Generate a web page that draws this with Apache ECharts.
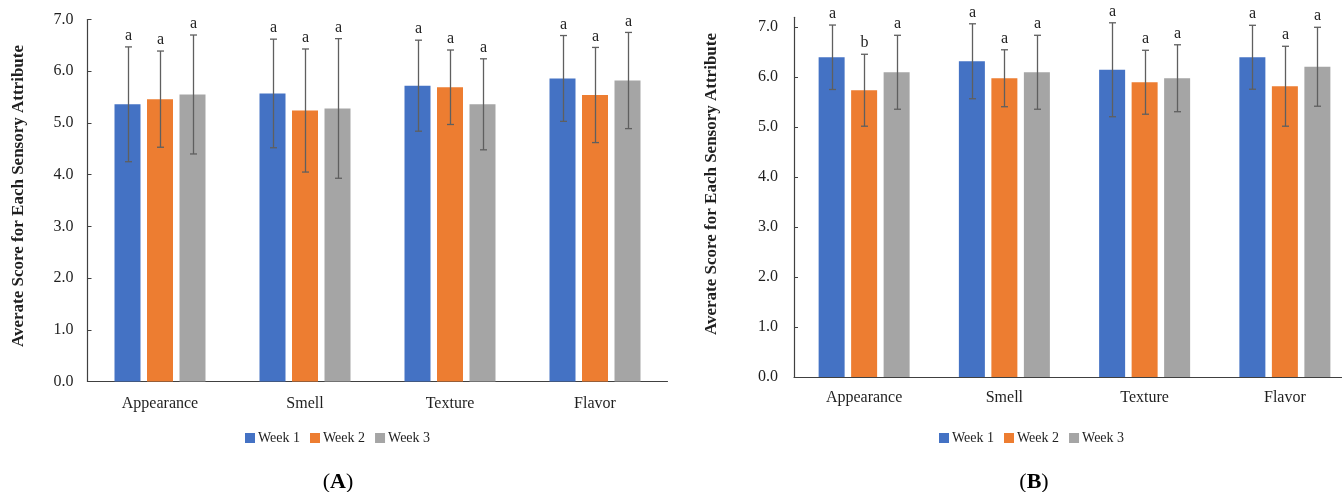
<!DOCTYPE html>
<html>
<head>
<meta charset="utf-8">
<script src="https://cdn.jsdelivr.net/npm/echarts@6/dist/echarts.min.js"></script>
<style>
html,body{margin:0;padding:0;background:#fff;}
#chart{width:1342px;height:492px;}
</style>
</head>
<body>
<div id="chart"></div>
<script>
// ---------- DATA ----------
const categories = ['Appearance', 'Smell', 'Texture', 'Flavor'];
const weekNames = ['Week 1', 'Week 2', 'Week 3'];

// Panel A
const meanA_w1 = [5.36, 5.57, 5.72, 5.86];
const meanA_w2 = [5.46, 5.24, 5.69, 5.54];
const meanA_w3 = [5.55, 5.28, 5.36, 5.82];
const sdA_w1 = [1.11, 1.05, 0.88, 0.83];
const sdA_w2 = [0.93, 1.19, 0.72, 0.92];
const sdA_w3 = [1.15, 1.35, 0.88, 0.93];
const letA_w1 = ['a', 'a', 'a', 'a'];
const letA_w2 = ['a', 'a', 'a', 'a'];
const letA_w3 = ['a', 'a', 'a', 'a'];

// Panel B
const meanB_w1 = [6.40, 6.32, 6.15, 6.40];
const meanB_w2 = [5.74, 5.98, 5.90, 5.82];
const meanB_w3 = [6.10, 6.10, 5.98, 6.21];
const sdB_w1 = [0.645, 0.75, 0.94, 0.64];
const sdB_w2 = [0.72, 0.57, 0.64, 0.80];
const sdB_w3 = [0.74, 0.74, 0.67, 0.79];
const letB_w1 = ['a', 'a', 'a', 'a'];
const letB_w2 = ['b', 'a', 'a', 'a'];
const letB_w3 = ['a', 'a', 'a', 'a'];

const yTicks = [0, 1, 2, 3, 4, 5, 6, 7];
const yMaxA = 7;
const yMaxB = 7.2;
const yAxisTitle = 'Averate Score for Each Sensory Attribute';
const panelLetters = ['A', 'B'];

// ---------- STYLE ----------
const colors = ['#4472C4', '#ED7D31', '#A5A5A5'];
const FONT = '"Liberation Serif", "Times New Roman", serif';
const BAR_W = 26;
const BAR_STEP = 32.5;     // barWidth + gap
const errColor = '#5f5f5f';
const axisColor = '#404040';
const textColor = '#1f1f1f';

const chart = echarts.init(document.getElementById('chart'), null, {renderer: 'canvas'});

function errSeries(name, axisIdx, means, sds, letters, k) {
  const offset = (k - 1) * BAR_STEP;
  return {
    type: 'custom',
    name: name + ' err',
    xAxisIndex: axisIdx,
    yAxisIndex: axisIdx,
    z: 5,
    silent: true,
    clip: false,
    encode: {x: 0, y: 1},
    data: means.map((m, i) => [i, m, sds[i]]),
    renderItem: function (params, api) {
      const c = api.value(0), m = api.value(1), s = api.value(2);
      const top = api.coord([c, m + s]);
      const bot = api.coord([c, m - s]);
      const x = Math.round(top[0] + offset) + 0.5;
      const st = {stroke: errColor, lineWidth: 1.3};
      return {
        type: 'group',
        children: [
          {type: 'line', shape: {x1: x, y1: top[1], x2: x, y2: bot[1]}, style: st},
          {type: 'line', shape: {x1: x - 3.5, y1: top[1], x2: x + 3.5, y2: top[1]}, style: st},
          {type: 'line', shape: {x1: x - 3.5, y1: bot[1], x2: x + 3.5, y2: bot[1]}, style: st},
          {type: 'text', x: x, y: top[1] - 3, style: {
            text: letters[params.dataIndex], align: 'center', verticalAlign: 'bottom',
            font: '16px ' + FONT, fill: textColor}}
        ]
      };
    }
  };
}

function barSeries(name, axisIdx, data, k) {
  return {
    type: 'bar', name: name, xAxisIndex: axisIdx, yAxisIndex: axisIdx,
    data: data, barWidth: BAR_W, barGap: '25%',
    itemStyle: {color: colors[k]}, z: 2
  };
}

function xAxisCfg(gridIndex, margin) {
  return {
    type: 'category', gridIndex: gridIndex, data: categories,
    axisLine: {show: true, lineStyle: {color: axisColor, width: 1.2}},
    axisTick: {show: false},
    axisLabel: {color: textColor, fontFamily: FONT, fontSize: 16, margin: margin}
  };
}

function yAxisCfg(gridIndex, max, margin) {
  return {
    type: 'value', gridIndex: gridIndex, min: 0, max: max, interval: 1,
    splitLine: {show: false},
    axisLine: {show: true, lineStyle: {color: axisColor, width: 1.2}},
    axisTick: {show: true, inside: true, length: 4, lineStyle: {color: axisColor}, customValues: yTicks},
    axisLabel: {color: textColor, fontFamily: FONT, fontSize: 16, margin: margin,
      customValues: yTicks, formatter: v => Number(v).toFixed(1)}
  };
}

function axisTitle(x, y) {
  return {
    type: 'text', x: x, y: y, rotation: Math.PI / 2,
    style: {text: yAxisTitle, align: 'center', verticalAlign: 'middle',
      font: 'bold 17px ' + FONT, fill: textColor}
  };
}

const option = {
  backgroundColor: '#ffffff',
  animation: false,
  title: [
    {text: '({b|' + panelLetters[0] + '})', left: 333, top: 466, textAlign: 'center',
     textStyle: {fontFamily: FONT, fontSize: 22, fontWeight: 'normal', color: '#000',
       rich: {b: {fontFamily: FONT, fontSize: 22, fontWeight: 'bold', color: '#000'}}}},
    {text: '({b|' + panelLetters[1] + '})', left: 1029, top: 466, textAlign: 'center',
     textStyle: {fontFamily: FONT, fontSize: 22, fontWeight: 'normal', color: '#000',
       rich: {b: {fontFamily: FONT, fontSize: 22, fontWeight: 'bold', color: '#000'}}}}
  ],
  graphic: [axisTitle(19, 196), axisTitle(712, 184)],
  legend: [
    {data: weekNames, left: 240, top: 426, icon: 'rect', itemWidth: 10, itemHeight: 10, itemGap: 10,
     textStyle: {fontFamily: FONT, fontSize: 14, color: textColor, padding: [0, 0, 0, -2]}},
    {data: weekNames, left: 934, top: 426, icon: 'rect', itemWidth: 10, itemHeight: 10, itemGap: 10,
     textStyle: {fontFamily: FONT, fontSize: 14, color: textColor, padding: [0, 0, 0, -2]}}
  ],
  grid: [
    {left: 87.5, width: 580, top: 19.5, bottom: 110.5, containLabel: false, outerBoundsMode: 'none'},
    {left: 794, width: 561, top: 17.3, bottom: 115, containLabel: false, outerBoundsMode: 'none'}
  ],
  xAxis: [xAxisCfg(0, 14), xAxisCfg(1, 13)],
  yAxis: [yAxisCfg(0, yMaxA, 14), yAxisCfg(1, yMaxB, 16)],
  series: [
    barSeries(weekNames[0], 0, meanA_w1, 0),
    barSeries(weekNames[1], 0, meanA_w2, 1),
    barSeries(weekNames[2], 0, meanA_w3, 2),
    barSeries(weekNames[0], 1, meanB_w1, 0),
    barSeries(weekNames[1], 1, meanB_w2, 1),
    barSeries(weekNames[2], 1, meanB_w3, 2),
    errSeries('A1', 0, meanA_w1, sdA_w1, letA_w1, 0),
    errSeries('A2', 0, meanA_w2, sdA_w2, letA_w2, 1),
    errSeries('A3', 0, meanA_w3, sdA_w3, letA_w3, 2),
    errSeries('B1', 1, meanB_w1, sdB_w1, letB_w1, 0),
    errSeries('B2', 1, meanB_w2, sdB_w2, letB_w2, 1),
    errSeries('B3', 1, meanB_w3, sdB_w3, letB_w3, 2)
  ]
};
chart.setOption(option);
</script>
</body>
</html>
